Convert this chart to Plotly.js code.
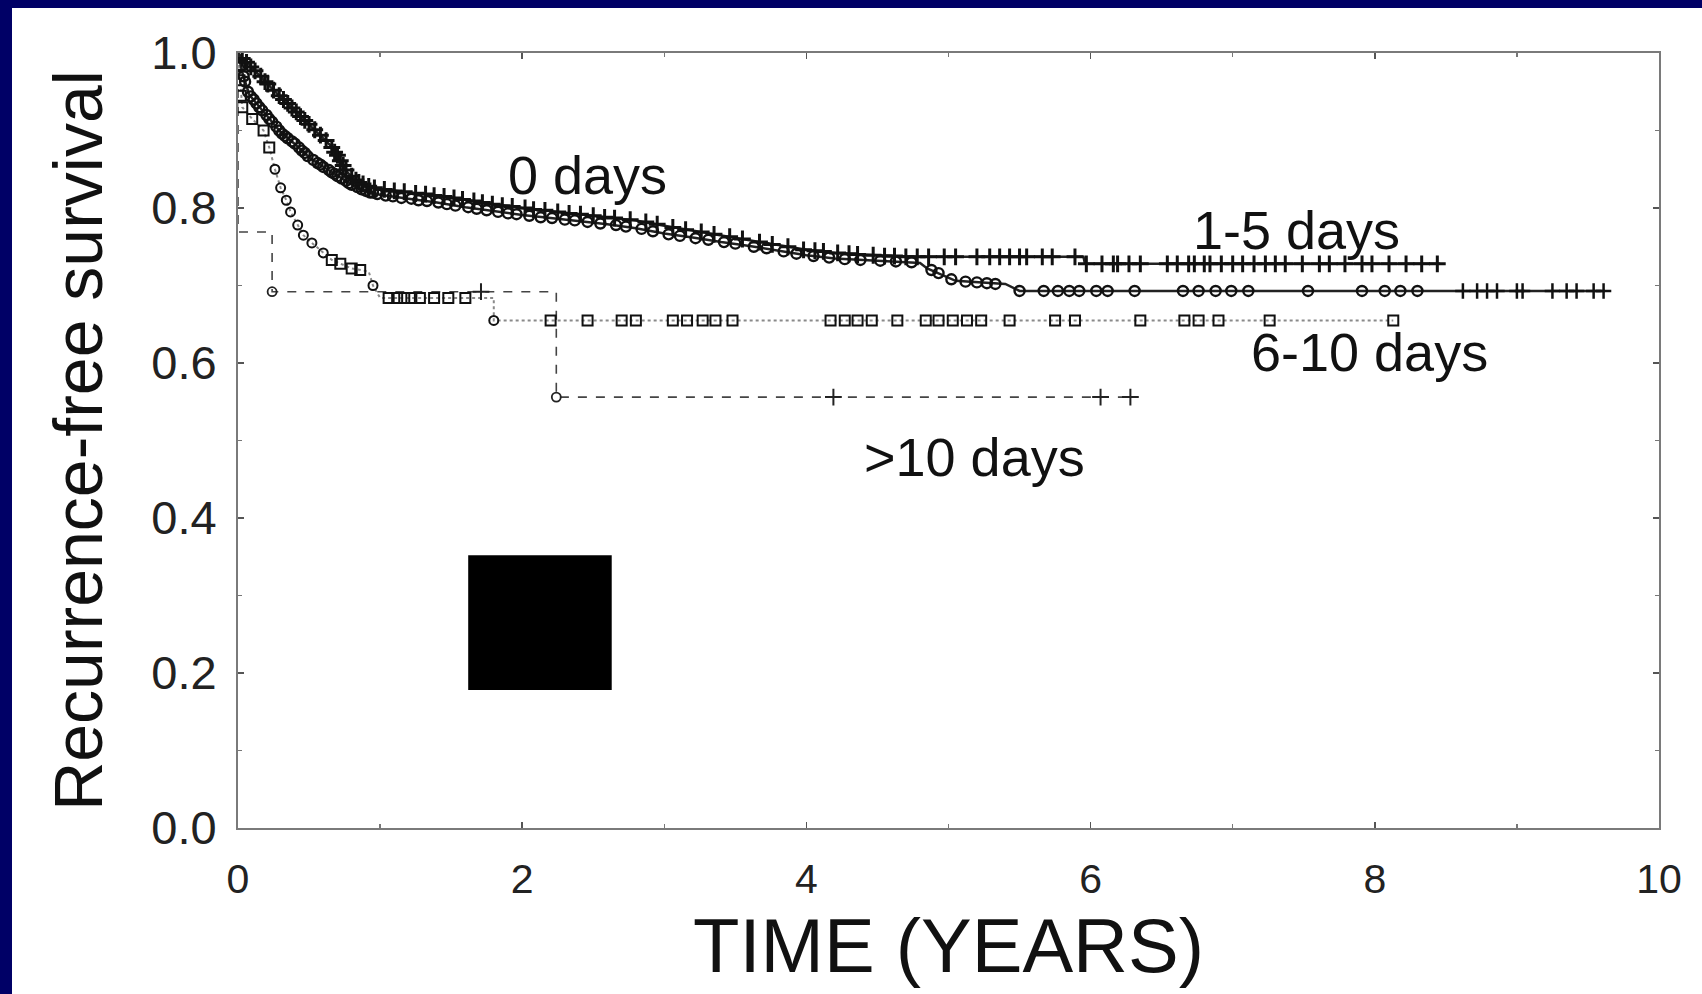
<!DOCTYPE html>
<html>
<head>
<meta charset="utf-8">
<script src="https://cdn.plot.ly/plotly-3.0.1.min.js"></script>
<style>
  html, body { margin: 0; padding: 0; background: #000066; width: 1702px; height: 994px; overflow: hidden; }
  #chart { position: absolute; left: 12px; top: 8px; width: 1690px; height: 986px; background: #ffffff; }
</style>
</head>
<body>
<div id="chart"></div>
<script>
// ---------------- DATA ----------------
// 0 days (open circles)
const zeroDaysT = [0, 0.03, 0.08, 0.18, 0.30, 0.41, 0.51, 0.62, 0.72, 0.82, 0.92, 1.0, 1.2, 1.4, 1.6, 1.8, 2.0, 2.2, 2.4, 2.6, 2.8, 3.0, 3.2, 3.4, 3.6, 3.8, 4.0, 4.2, 4.4, 4.6, 4.8, 4.85, 4.95, 5.05, 5.4, 5.5, 9.62];
const zeroDaysS = [1.0, 0.975, 0.946, 0.924, 0.898, 0.881, 0.864, 0.851, 0.839, 0.828, 0.821, 0.817, 0.812, 0.807, 0.801, 0.796, 0.791, 0.787, 0.783, 0.779, 0.774, 0.767, 0.762, 0.756, 0.751, 0.745, 0.739, 0.735, 0.733, 0.731, 0.729, 0.722, 0.714, 0.706, 0.702, 0.693, 0.693];
const zeroDaysCircleT = [0.02, 0.04, 0.05, 0.07, 0.09, 0.11, 0.13, 0.15, 0.17, 0.2, 0.22, 0.24, 0.27, 0.29, 0.31, 0.33, 0.35, 0.38, 0.4, 0.43, 0.45, 0.47, 0.49, 0.53, 0.56, 0.58, 0.6, 0.64, 0.66, 0.68, 0.7, 0.73, 0.76, 0.78, 0.8, 0.84, 0.87, 0.9, 0.93, 0.95, 0.98, 1.04, 1.09, 1.15, 1.22, 1.27, 1.33, 1.41, 1.47, 1.53, 1.62, 1.68, 1.75, 1.83, 1.9, 1.96, 2.05, 2.13, 2.21, 2.3, 2.37, 2.46, 2.55, 2.66, 2.73, 2.84, 2.92, 3.03, 3.11, 3.22, 3.31, 3.42, 3.5, 3.63, 3.72, 3.84, 3.93, 4.05, 4.16, 4.27, 4.38, 4.52, 4.63, 4.74, 4.88, 4.93, 5.02, 5.12, 5.2, 5.27, 5.33, 5.50, 5.67, 5.77, 5.85, 5.92, 6.04, 6.12, 6.31, 6.65, 6.76, 6.88, 6.99, 7.11, 7.53, 7.91, 8.07, 8.18, 8.30];
const zeroDaysCircleS = [0.983, 0.97, 0.963, 0.95, 0.944, 0.94, 0.935, 0.93, 0.926, 0.92, 0.915, 0.911, 0.905, 0.9, 0.896, 0.893, 0.89, 0.886, 0.883, 0.878, 0.874, 0.871, 0.867, 0.862, 0.858, 0.856, 0.853, 0.849, 0.846, 0.844, 0.841, 0.838, 0.835, 0.832, 0.83, 0.827, 0.824, 0.822, 0.82, 0.82, 0.818, 0.816, 0.815, 0.813, 0.812, 0.81, 0.809, 0.807, 0.805, 0.803, 0.801, 0.799, 0.797, 0.795, 0.793, 0.792, 0.79, 0.788, 0.787, 0.785, 0.784, 0.782, 0.78, 0.778, 0.776, 0.773, 0.77, 0.766, 0.764, 0.761, 0.759, 0.756, 0.754, 0.75, 0.748, 0.744, 0.741, 0.738, 0.736, 0.734, 0.733, 0.732, 0.731, 0.73, 0.72, 0.716, 0.708, 0.705, 0.704, 0.703, 0.702, 0.693, 0.693, 0.693, 0.693, 0.693, 0.693, 0.693, 0.693, 0.693, 0.693, 0.693, 0.693, 0.693, 0.693, 0.693, 0.693, 0.693, 0.693];
const zeroDaysPlusT = [8.62, 8.72, 8.79, 8.86, 9.0, 9.04, 9.25, 9.35, 9.42, 9.54, 9.61];
const zeroDaysPlusS = [0.693, 0.693, 0.693, 0.693, 0.693, 0.693, 0.693, 0.693, 0.693, 0.693, 0.693];

// 1-5 days (plus marks)
const oneFiveT = [0, 0.05, 0.13, 0.25, 0.41, 0.53, 0.65, 0.77, 0.84, 0.92, 1.0, 1.2, 1.4, 1.6, 1.8, 2.0, 2.2, 2.4, 2.6, 2.8, 3.0, 3.2, 3.4, 3.6, 3.8, 4.0, 4.2, 4.4, 4.6, 4.8, 5.95, 5.96, 8.46];
const oneFiveS = [1.0, 0.99, 0.975, 0.952, 0.924, 0.903, 0.881, 0.846, 0.834, 0.828, 0.825, 0.82, 0.816, 0.811, 0.805, 0.8, 0.796, 0.792, 0.788, 0.784, 0.777, 0.771, 0.765, 0.758, 0.752, 0.746, 0.742, 0.74, 0.738, 0.737, 0.737, 0.728, 0.728];
const oneFivePlusT = [0.03, 0.06, 0.09, 0.12, 0.16, 0.19, 0.21, 0.25, 0.29, 0.32, 0.35, 0.38, 0.41, 0.44, 0.47, 0.5, 0.54, 0.58, 0.62, 0.66, 0.68, 0.7, 0.72, 0.74, 0.76, 0.8, 0.83, 0.85, 0.88, 0.92, 0.96, 1.03, 1.1, 1.17, 1.25, 1.32, 1.38, 1.45, 1.52, 1.58, 1.66, 1.72, 1.79, 1.86, 1.93, 2.02, 2.08, 2.16, 2.25, 2.33, 2.41, 2.5, 2.58, 2.65, 2.76, 2.87, 2.95, 3.06, 3.15, 3.26, 3.35, 3.46, 3.55, 3.67, 3.76, 3.87, 3.98, 4.06, 4.12, 4.22, 4.3, 4.36, 4.47, 4.55, 4.62, 4.7, 4.78, 4.86, 4.97, 5.05, 5.20, 5.29, 5.36, 5.43, 5.50, 5.55, 5.66, 5.73, 5.89, 5.97, 6.08, 6.16, 6.19, 6.27, 6.35, 6.54, 6.61, 6.69, 6.73, 6.80, 6.84, 6.92, 7.0, 7.07, 7.15, 7.23, 7.30, 7.37, 7.49, 7.61, 7.68, 7.79, 7.91, 7.98, 8.10, 8.22, 8.33, 8.44];
const oneFivePlusS = [0.993, 0.988, 0.982, 0.977, 0.97, 0.963, 0.96, 0.952, 0.945, 0.94, 0.935, 0.929, 0.924, 0.918, 0.913, 0.908, 0.901, 0.894, 0.887, 0.878, 0.872, 0.868, 0.861, 0.855, 0.849, 0.841, 0.836, 0.833, 0.831, 0.828, 0.826, 0.824, 0.822, 0.821, 0.819, 0.818, 0.816, 0.815, 0.813, 0.811, 0.809, 0.807, 0.805, 0.803, 0.802, 0.8, 0.798, 0.797, 0.795, 0.793, 0.792, 0.79, 0.788, 0.787, 0.785, 0.782, 0.779, 0.775, 0.772, 0.769, 0.766, 0.763, 0.76, 0.756, 0.753, 0.75, 0.746, 0.745, 0.744, 0.742, 0.741, 0.74, 0.739, 0.738, 0.738, 0.737, 0.737, 0.737, 0.737, 0.737, 0.737, 0.737, 0.737, 0.737, 0.737, 0.737, 0.737, 0.737, 0.737, 0.728, 0.728, 0.728, 0.728, 0.728, 0.728, 0.728, 0.728, 0.728, 0.728, 0.728, 0.728, 0.728, 0.728, 0.728, 0.728, 0.728, 0.728, 0.728, 0.728, 0.728, 0.728, 0.728, 0.728, 0.728, 0.728, 0.728, 0.728, 0.728];

// 6-10 days (open squares)
const sixTenT = [0, 0.01, 0.02, 0.03, 0.1, 0.18, 0.22, 0.26, 0.3, 0.34, 0.37, 0.42, 0.46, 0.52, 0.6, 0.66, 0.8, 0.92, 0.95, 1.0, 1.8, 1.8, 8.13];
const sixTenS = [1.0, 0.975, 0.95, 0.93, 0.915, 0.9, 0.878, 0.85, 0.826, 0.81, 0.795, 0.778, 0.765, 0.755, 0.742, 0.733, 0.722, 0.718, 0.7, 0.684, 0.684, 0.655, 0.655];
const sixTenEventT = [0.26, 0.3, 0.34, 0.37, 0.42, 0.46, 0.52, 0.6, 0.95, 1.8];
const sixTenEventS = [0.85, 0.826, 0.81, 0.795, 0.778, 0.765, 0.755, 0.742, 0.7, 0.655];
const sixTenSquareT = [0.01, 0.01, 0.02, 0.03, 0.1, 0.18, 0.22, 0.66, 0.72, 0.8, 0.86, 1.06, 1.12, 1.17, 1.22, 1.28, 1.38, 1.48, 1.6, 2.20, 2.46, 2.70, 2.80, 3.06, 3.16, 3.27, 3.36, 3.48, 4.17, 4.27, 4.36, 4.46, 4.64, 4.84, 4.93, 5.03, 5.13, 5.23, 5.43, 5.75, 5.89, 6.35, 6.66, 6.76, 6.90, 7.26, 8.13];
const sixTenSquareS = [0.985, 0.965, 0.945, 0.93, 0.915, 0.9, 0.878, 0.733, 0.728, 0.722, 0.72, 0.684, 0.684, 0.684, 0.684, 0.684, 0.684, 0.684, 0.684, 0.655, 0.655, 0.655, 0.655, 0.655, 0.655, 0.655, 0.655, 0.655, 0.655, 0.655, 0.655, 0.655, 0.655, 0.655, 0.655, 0.655, 0.655, 0.655, 0.655, 0.655, 0.655, 0.655, 0.655, 0.655, 0.655, 0.655, 0.655];

// >10 days (dashed)
const gt10T = [0, 0, 0, 0.24, 0.24, 2.24, 2.24, 6.32];
const gt10S = [1.0, 0.846, 0.769, 0.769, 0.692, 0.692, 0.556, 0.556];
const gt10EventT = [0.24, 2.24];
const gt10EventS = [0.692, 0.556];
const gt10PlusT = [1.71, 4.19, 6.07, 6.28];
const gt10PlusS = [0.692, 0.556, 0.556, 0.556];

// Curve labels
const labelTexts = ["0 days", "1-5 days", "6-10 days", ">10 days"];
const labelX = [2.46, 7.45, 7.96, 5.18];
const labelY = [0.843, 0.771, 0.614, 0.479];

// Black occluding block in the picture (data units)
const blockX = [1.62, 2.63];
const blockY = [0.178, 0.352];

// Axis ticks
const xTickVals = [0, 2, 4, 6, 8, 10];
const xTickText = ["0", "2", "4", "6", "8", "10"];
const yTickVals = [0, 0.2, 0.4, 0.6, 0.8, 1.0];
const yTickText = ["0.0", "0.2", "0.4", "0.6", "0.8", "1.0"];

// ---------------- CHART ----------------
const FONT = "'Liberation Sans', Arial, Helvetica, sans-serif";
const traces = [
  {x: sixTenT, y: sixTenS, mode: "lines", line: {color: "#8a8a8a", width: 2, dash: "dot"}, hoverinfo: "skip"},
  {x: gt10T, y: gt10S, mode: "lines", line: {color: "#444", width: 1.6, dash: "dash"}, hoverinfo: "skip"},
  {x: zeroDaysT, y: zeroDaysS, mode: "lines", line: {color: "#222", width: 2.5}, hoverinfo: "skip"},
  {x: oneFiveT, y: oneFiveS, mode: "lines", line: {color: "#222", width: 2.5}, hoverinfo: "skip"},
  {x: sixTenSquareT, y: sixTenSquareS, mode: "markers", marker: {symbol: "square-open", size: 10, color: "#111", line: {width: 2}}, hoverinfo: "skip"},
  {x: sixTenEventT, y: sixTenEventS, mode: "markers", marker: {symbol: "circle-open", size: 9, color: "#111", line: {width: 2}}, hoverinfo: "skip"},
  {x: zeroDaysCircleT, y: zeroDaysCircleS, mode: "markers", marker: {symbol: "circle-open", size: 10, color: "#111", line: {width: 2.4}}, hoverinfo: "skip"},
  {x: zeroDaysPlusT, y: zeroDaysPlusS, mode: "markers", marker: {symbol: "cross-thin-open", size: 11, color: "#111", line: {width: 2.5}}, hoverinfo: "skip"},
  {x: oneFivePlusT, y: oneFivePlusS, mode: "markers", marker: {symbol: "cross-thin-open", size: 12, color: "#111", line: {width: 3}}, hoverinfo: "skip"},
  {x: gt10EventT, y: gt10EventS, mode: "markers", marker: {symbol: "circle-open", size: 9, color: "#222", line: {width: 1.8}}, hoverinfo: "skip"},
  {x: gt10PlusT, y: gt10PlusS, mode: "markers", marker: {symbol: "cross-thin-open", size: 12, color: "#222", line: {width: 2}}, hoverinfo: "skip"}
];

const annotations = labelTexts.map((t, i) => ({
  x: labelX[i], y: labelY[i], xref: "x", yref: "y", text: t, showarrow: false,
  xanchor: "center", yanchor: "middle",
  font: {family: FONT, size: 54, color: "#111"}
}));

const layout = {
  width: 1690, height: 986,
  margin: {l: 226, r: 43, t: 45, b: 166, pad: 0},
  paper_bgcolor: "#ffffff", plot_bgcolor: "#ffffff",
  showlegend: false,
  xaxis: {
    range: [0, 10], tickvals: xTickVals, ticktext: xTickText,
    ticks: "inside", ticklen: 6, tickwidth: 1.5, tickcolor: "#555",
    minor: {tickvals: [1, 3, 5, 7, 9], ticks: "inside", ticklen: 4, tickcolor: "#777"},
    showline: true, linecolor: "#7a7a7a", linewidth: 2, mirror: "ticks",
    showgrid: false, zeroline: false, automargin: false,
    ticklabelstandoff: 14,
    tickfont: {family: FONT, size: 41, color: "#222"},
    title: {text: "TIME (YEARS)", font: {family: FONT, size: 76, color: "#111"}, standoff: 18}
  },
  yaxis: {
    range: [0, 1], tickvals: yTickVals, ticktext: yTickText,
    ticks: "inside", ticklen: 6, tickwidth: 1.5, tickcolor: "#555",
    minor: {tickvals: [0.1, 0.3, 0.5, 0.7, 0.9], ticks: "inside", ticklen: 4, tickcolor: "#777"},
    showline: true, linecolor: "#7a7a7a", linewidth: 2, mirror: "ticks",
    showgrid: false, zeroline: false, automargin: false,
    ticklabelstandoff: 10,
    tickfont: {family: FONT, size: 47, color: "#222"},
    title: {text: "Recurrence-free survival", font: {family: FONT, size: 68, color: "#111"}, standoff: 26}
  },
  shapes: [{
    type: "rect", xref: "x", yref: "y",
    x0: blockX[0], x1: blockX[1], y0: blockY[0], y1: blockY[1],
    fillcolor: "#000000", line: {width: 0}, layer: "above"
  }],
  annotations: annotations
};

Plotly.newPlot("chart", traces, layout, {staticPlot: true, displayModeBar: false});
</script>
</body>
</html>
